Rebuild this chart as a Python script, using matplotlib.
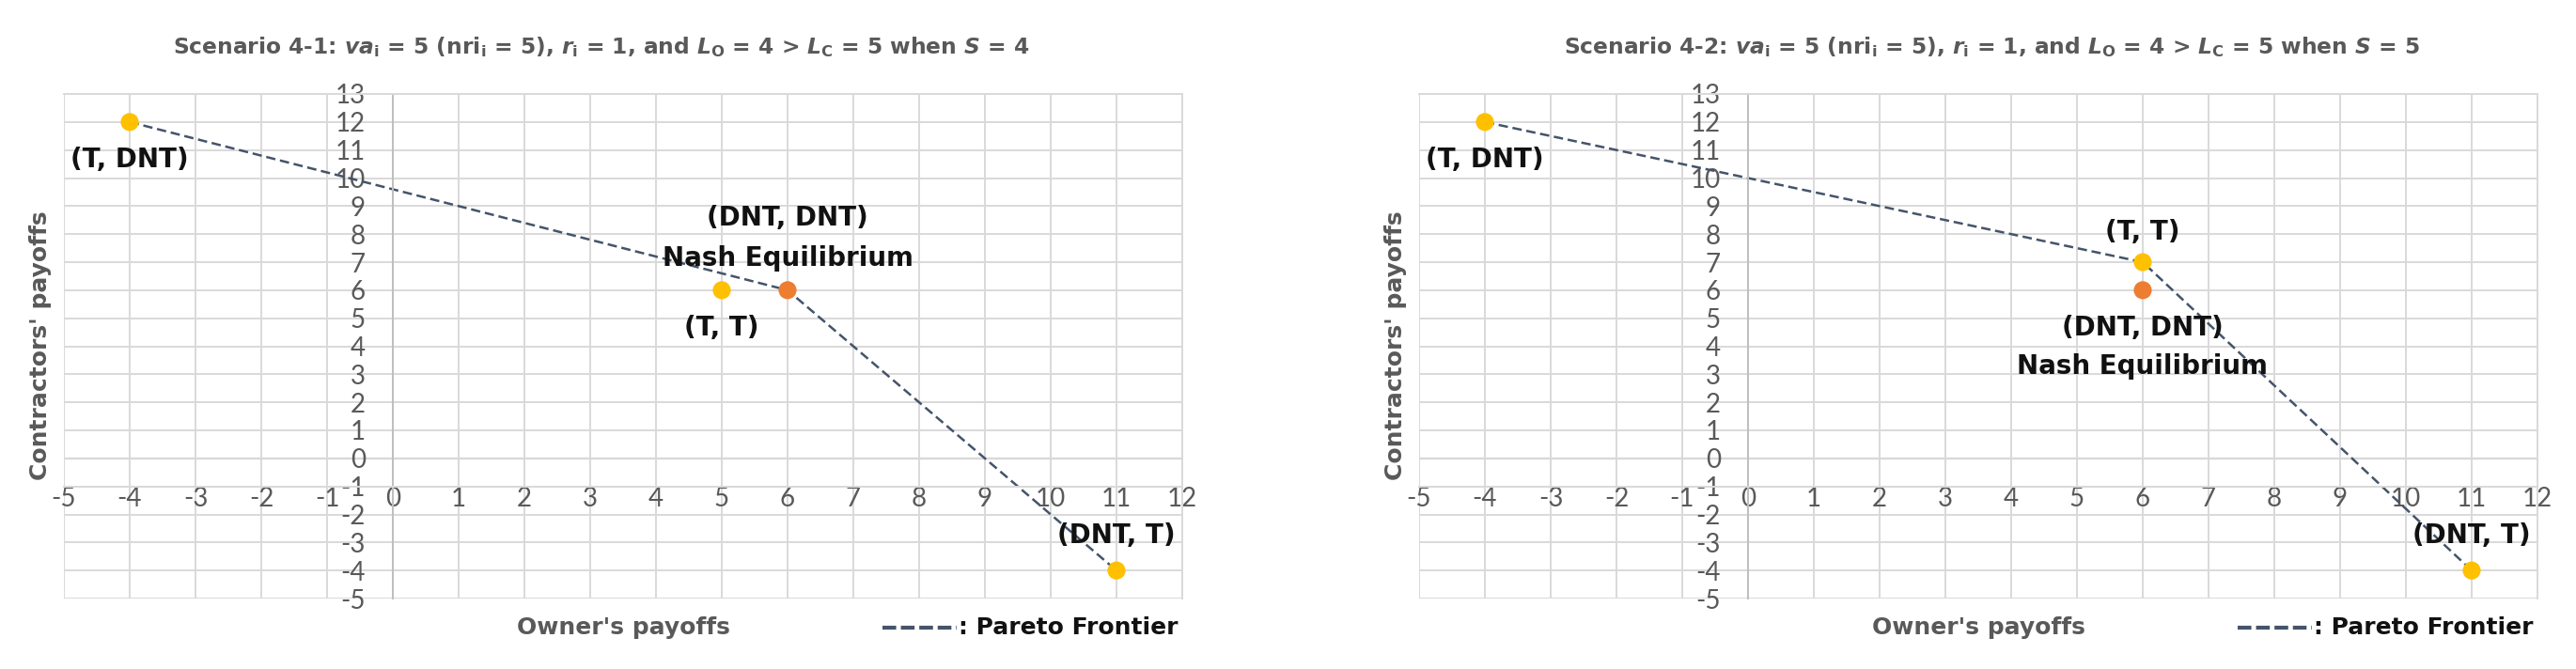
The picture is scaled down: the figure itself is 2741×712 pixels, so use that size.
import matplotlib.pyplot as plt
from matplotlib.lines import Line2D

plt.rcParams["mathtext.fontset"] = "custom"
plt.rcParams["mathtext.rm"] = "DejaVu Sans:bold"
plt.rcParams["mathtext.it"] = "DejaVu Sans:italic:bold"

# ---- data ----
outcomes = ["(T, DNT)", "(T, T)", "(DNT, DNT)", "(DNT, T)"]
s1_owner = [-4, 5, 6, 11]
s1_contractor = [12, 6, 6, -4]
s2_owner = [-4, 6, 6, 11]
s2_contractor = [12, 7, 6, -4]
s1_pareto = [0, 2, 3]
s2_pareto = [0, 1, 3]
nash_index = 2

x_ticks = list(range(-5, 13))
y_ticks = list(range(-5, 14))

titles = [
    r"Scenario 4-1: $va_\mathrm{i}$ = 5 (nr$\mathrm{i}_\mathrm{i}$ = 5), $r_\mathrm{i}$ = 1, and "
    r"$L_\mathrm{O}$ = 4 > $L_\mathrm{C}$ = 5 when $S$ = 4",
    r"Scenario 4-2: $va_\mathrm{i}$ = 5 (nr$\mathrm{i}_\mathrm{i}$ = 5), $r_\mathrm{i}$ = 1, and "
    r"$L_\mathrm{O}$ = 4 > $L_\mathrm{C}$ = 5 when $S$ = 5",
]

# ---- style / layout ----
YELLOW = "#FFC000"
ORANGE = "#ED7D31"
LINE = "#44546A"
GRID = "#D9D9D9"
GRAY = "#595959"
W, H = 2741, 712

# label offsets in pixels (one per outcome), plus the "Nash Equilibrium" line
s1_offsets = [(0, -40), (0, -40), (0, 77), (0, 37)]
s1_nash_offset = (0, 34)
s2_offsets = [(0, -40), (0, 32), (0, -40), (0, 37)]
s2_nash_offset = (0, -81)

fig = plt.figure(figsize=(W / 100, H / 100), dpi=100)


def draw(left_px, owner, contractor, pareto, offsets, nash_offset, title, title_x):
    ax = fig.add_axes([left_px / W, 1 - 637 / H, 1190 / W, 537 / H])
    ax.set_xlim(-5, 12)
    ax.set_ylim(-5, 13)
    ax.set_xticks(x_ticks)
    ax.set_yticks(y_ticks)
    ax.set_xticklabels([str(v) for v in x_ticks])
    ax.set_yticklabels([str(v) for v in y_ticks])
    ax.grid(True, color=GRID, lw=1.4, zorder=0)
    ax.set_axisbelow(True)
    ax.spines["left"].set_position(("data", 0))
    ax.spines["bottom"].set_position(("data", -1))
    for s in ax.spines.values():
        s.set_color(GRID)
        s.set_linewidth(1.4)
    ax.spines["left"].set_color("#BFBFBF")
    ax.axhline(0, color="#C8C8C8", lw=1.6, zorder=0.5)
    ax.tick_params(axis="both", length=0, labelsize=20, labelcolor=GRAY)
    ax.tick_params(axis="y", pad=21)
    ax.tick_params(axis="x", pad=0)
    for lab in ax.get_xticklabels() + ax.get_yticklabels():
        lab.set_fontfamily("Lato")

    px = [owner[i] for i in pareto]
    py = [contractor[i] for i in pareto]
    ax.plot(px, py, color=LINE, lw=1.8, linestyle=(0, (4, 2)), zorder=2)

    colors = [ORANGE if i == nash_index else YELLOW for i in range(len(owner))]
    ax.scatter(owner, contractor, s=190, c=colors, zorder=3, linewidths=0)

    for i, name in enumerate(outcomes):
        ax.annotate(name, (owner[i], contractor[i]), xytext=offsets[i],
                    textcoords="offset pixels", ha="center", va="center",
                    fontsize=20, fontweight="bold", color="#111111", zorder=4)
    ax.annotate("Nash Equilibrium", (owner[nash_index], contractor[nash_index]),
                xytext=nash_offset, textcoords="offset pixels", ha="center",
                va="center", fontsize=20, fontweight="bold", color="#111111", zorder=4)

    fig.text(title_x / W, 1 - 50 / H, title, ha="center", va="center",
             fontsize=16.8, fontweight="bold", color=GRAY)
    fig.text((left_px - 25) / W, 1 - 368 / H, "Contractors' payoffs", rotation=90,
             ha="center", va="center", fontsize=18, fontweight="bold", color=GRAY)
    fig.text((left_px + 595) / W, 1 - 668 / H, "Owner's payoffs", ha="center",
             va="center", fontsize=18, fontweight="bold", color=GRAY)
    lx = left_px + 871
    fig.add_artist(Line2D([lx / W, (lx + 79) / W], [1 - 668 / H, 1 - 668 / H],
                          color=LINE, lw=3, linestyle=(0, (3.5, 1.2))))
    fig.text((lx + 81) / W, 1 - 668 / H, ": Pareto Frontier", ha="left",
             va="center", fontsize=18, fontweight="bold", color="#111111")


draw(68, s1_owner, s1_contractor, s1_pareto, s1_offsets, s1_nash_offset, titles[0], 640)
draw(1510, s2_owner, s2_contractor, s2_pareto, s2_offsets, s2_nash_offset, titles[1], 2119)

plt.savefig("out.png", dpi=100)
